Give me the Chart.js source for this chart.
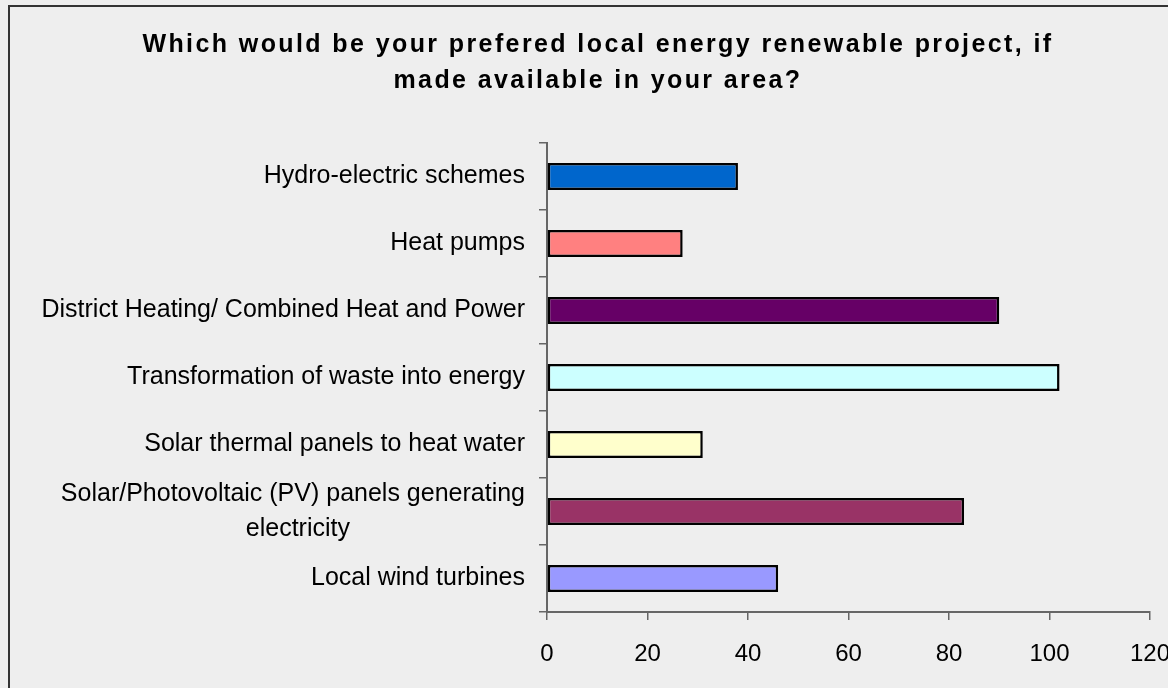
<!DOCTYPE html>
<html>
<head>
<meta charset="utf-8">
<script src="https://cdn.jsdelivr.net/npm/chart.js@4/dist/chart.umd.min.js"></script>
<style>
  html, body { margin: 0; padding: 0; background: #eeeeee; }
  #wrap { width: 1168px; height: 688px; }
</style>
</head>
<body>
<div id="wrap"><canvas id="chart"></canvas></div>
<script>
const titleLines = [
  "Which would be your prefered local energy renewable project, if",
  "made available in your area?"
];
const categories = [
  "Hydro-electric schemes",
  "Heat pumps",
  "District Heating/ Combined Heat and Power",
  "Transformation of waste into energy",
  "Solar thermal panels to heat water",
  ["Solar/Photovoltaic (PV) panels generating", "electricity"],
  "Local wind turbines"
];
const values = [38, 27, 90, 102, 31, 83, 46];
const barColors = ["#0066cc", "#ff8080", "#660066", "#ccffff", "#ffffcc", "#993366", "#9999ff"];
const xTicks = [0, 20, 40, 60, 80, 100, 120];

const fontFamily = "'Liberation Sans', Arial, sans-serif";
const labelFont = { family: fontFamily, size: 25, lineHeight: 1.4 };

// centre the lines of a wrapped label under each other
const measureCtx = document.createElement('canvas').getContext('2d');
function centreLines(label) {
  if (!Array.isArray(label)) return label;
  measureCtx.font = labelFont.size + 'px ' + fontFamily;
  const w = l => measureCtx.measureText(l).width;
  const widest = Math.max(...label.map(w));
  const sp = w('\u2002');
  return label.map(l => l + '\u2002'.repeat(Math.round((widest - w(l)) / 2 / sp)));
}

const backdrop = {
  id: 'backdrop',
  beforeDraw(chart) {
    const ctx = chart.ctx;
    ctx.save();
    ctx.fillStyle = '#eeeeee';
    ctx.fillRect(0, 0, chart.width, chart.height);
    ctx.strokeStyle = '#333333';
    ctx.lineWidth = 2;
    ctx.strokeRect(9, 6, chart.width + 20, chart.height + 20);
    ctx.restore();
    // spaced-out title letters
    const tb = chart.titleBlock;
    if (tb && !tb._spaced) {
      const orig = tb.draw.bind(tb);
      tb.draw = function () {
        this.ctx.save();
        this.ctx.letterSpacing = '2.4px';
        orig();
        this.ctx.restore();
      };
      tb._spaced = true;
    }
  }
};

new Chart(document.getElementById('chart'), {
  type: 'bar',
  data: {
    labels: categories,
    datasets: [{
      data: values,
      backgroundColor: barColors,
      borderColor: '#000000',
      borderWidth: 2.5,
      borderSkipped: false,
      barPercentage: 0.4,
      categoryPercentage: 1
    }]
  },
  plugins: [backdrop],
  options: {
    indexAxis: 'y',
    responsive: true,
    maintainAspectRatio: false,
    animation: false,
    layout: { padding: { left: 28, top: 0, right: 0, bottom: 0 } },
    plugins: {
      legend: { display: false },
      tooltip: { enabled: false },
      title: {
        display: true,
        text: titleLines,
        color: '#000000',
        font: { family: fontFamily, size: 25, weight: 'bold', lineHeight: 1.44 },
        padding: { top: 27, bottom: 44 }
      }
    },
    scales: {
      x: {
        min: 0,
        max: 120,
        afterBuildTicks(scale) { scale.ticks = xTicks.map(v => ({ value: v })); },
        afterFit(scale) { scale.paddingRight = 18; },
        grid: { drawOnChartArea: false, color: '#666666', lineWidth: 1.5, tickLength: 8 },
        border: { color: '#666666', width: 2 },
        ticks: { color: '#000000', padding: 22, font: { family: fontFamily, size: 24, lineHeight: 1 } }
      },
      y: {
        afterFit(scale) { scale.width = 519; },
        grid: { drawOnChartArea: false, offset: true, color: '#666666', lineWidth: 1.5, tickLength: 8 },
        border: { color: '#666666', width: 2 },
        ticks: {
          color: '#000000',
          padding: 14,
          autoSkip: false,
          font: labelFont,
          callback(value) { return centreLines(categories[value]); }
        }
      }
    }
  }
});
</script>
</body>
</html>
